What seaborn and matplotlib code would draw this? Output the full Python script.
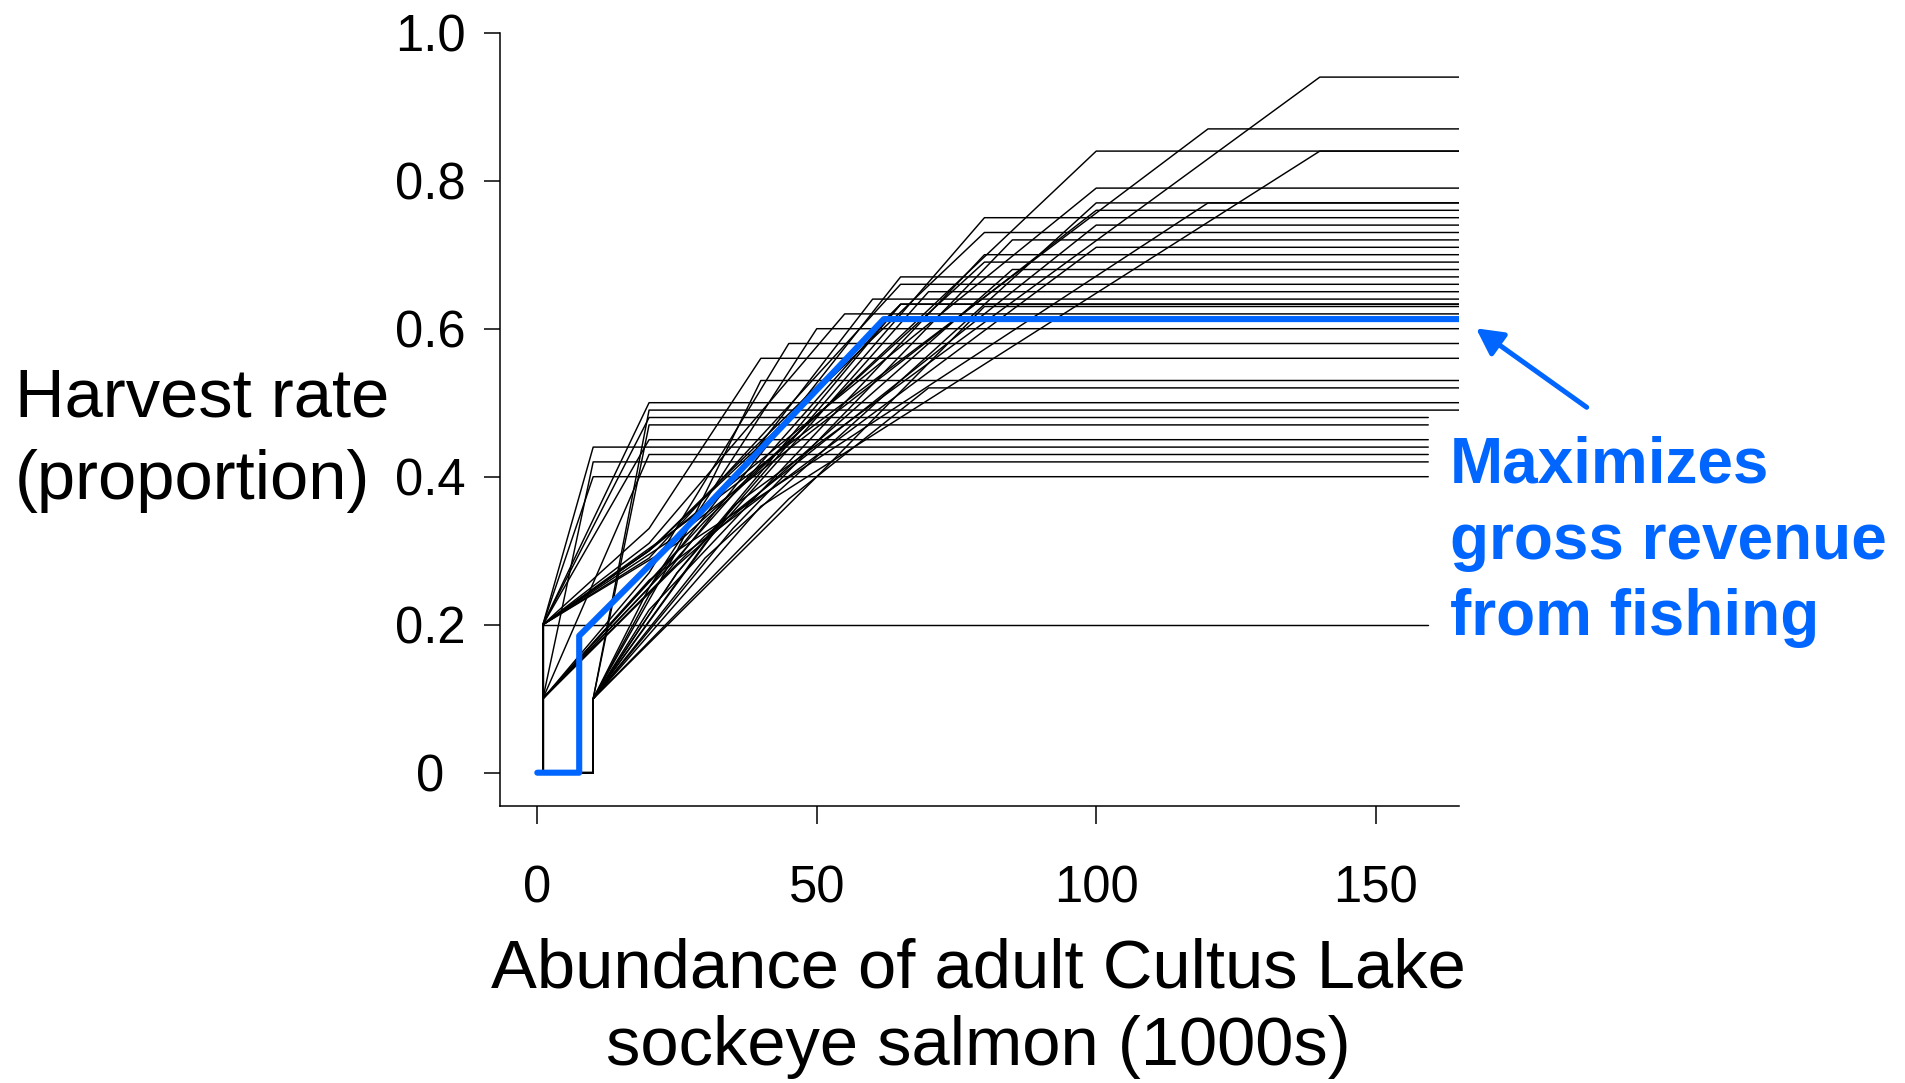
import numpy as np
import pandas as pd
import matplotlib
matplotlib.use("Agg")
import matplotlib.pyplot as plt
import seaborn as sns

# Candidate harvest control rules.  Each rule: zero harvest below x_low,
# a step to h_low at x_low, a rise through (x_mid, h_mid) to the maximum
# rate h_top reached at x_top, then flat out to x_end (abundance in 1000s).
x_low = [10, 1, 1, 10, 1, 10, 1, 1, 10, 1, 1, 10, 1, 10, 1, 1, 10, 1, 10, 1,
         1, 10, 1, 10, 1, 10, 1, 1, 10, 10, 1, 10,
         1, 10, 1, 1, 1, 1, 1, 1]
h_low = [0.10, 0.20, 0.10, 0.10, 0.20, 0.10, 0.10, 0.20, 0.10, 0.10,
         0.20, 0.10, 0.10, 0.10, 0.20, 0.10, 0.10, 0.20, 0.10, 0.10,
         0.20, 0.10, 0.10, 0.10, 0.20, 0.10, 0.10, 0.20, 0.10, 0.10,
         0.20, 0.10,
         0.20, 0.10, 0.20, 0.20, 0.10, 0.10, 0.20, 0.20]
x_mid = [35, 25, 30, 40, 20, 30, 25, 25, 25, 30, 20, 35, 20, 20, 25, 25, 20, 20, 30, 20,
         20, 25, 25, 50, 20, 20, 20, 20, 25, 45, 20, 20,
         20, 20, 20, 10, 20, 10, 10, 1]
h_mid = [0.36, 0.33, 0.34, 0.36, 0.30, 0.29, 0.30, 0.32, 0.27, 0.32,
         0.30, 0.33, 0.26, 0.22, 0.31, 0.28, 0.24, 0.29, 0.31, 0.25,
         0.30, 0.27, 0.29, 0.40, 0.31, 0.25, 0.27, 0.33, 0.30, 0.37,
         0.50, 0.49,
         0.48, 0.47, 0.45, 0.44, 0.43, 0.42, 0.40, 0.20]
x_top = [140, 120, 100, 140, 100, 100, 120, 100, 80, 100, 80, 85, 100, 80, 80, 85, 65, 65, 70, 60,
         65, 65, 65, 80, 55, 50, 45, 40, 40, 70, 20, 20,
         20, 20, 20, 10, 20, 10, 10, 1]
h_top = [0.94, 0.87, 0.84, 0.84, 0.79, 0.77, 0.77, 0.76, 0.75, 0.74,
         0.73, 0.72, 0.71, 0.70, 0.69, 0.68, 0.67, 0.66, 0.65, 0.64,
         0.633, 0.633, 0.633, 0.63, 0.62, 0.60, 0.58, 0.56, 0.53, 0.52,
         0.50, 0.49,
         0.48, 0.47, 0.45, 0.44, 0.43, 0.42, 0.40, 0.20]
x_end = [165] * 32 + [159.4] * 8

# Rule that maximizes gross revenue from fishing
best_x = [0, 7.5, 7.5, 24, 62, 165]
best_h = [0, 0, 0.185, 0.31, 0.613, 0.613]

x_ticks = [0, 50, 100, 150]
x_tick_labels = ["0", "50", "100", "150"]
y_ticks = [0, 0.2, 0.4, 0.6, 0.8, 1.0]
y_tick_labels = ["0", "0.2", "0.4", "0.6", "0.8", "1.0"]

BLUE = "#0066ff"

records = []
for i in range(len(x_low)):
    xs = [0, x_low[i], x_low[i], x_mid[i], x_top[i], x_end[i]]
    ys = [0, 0, h_low[i], h_mid[i], h_top[i], h_top[i]]
    for k, (a, b) in enumerate(zip(xs, ys)):
        records.append({"rule": i, "order": k, "abundance": a, "rate": b})
rules = pd.DataFrame(records)
best = pd.DataFrame({"abundance": best_x, "rate": best_h})

sns.set_style("ticks")
plt.rcParams["font.family"] = ["Liberation Sans", "DejaVu Sans"]
plt.rcParams["text.color"] = "black"
plt.rcParams["axes.labelcolor"] = "black"
plt.rcParams["xtick.color"] = "black"
plt.rcParams["ytick.color"] = "black"
plt.rcParams["xtick.labelcolor"] = "black"
plt.rcParams["ytick.labelcolor"] = "black"

W, H = 1906, 1083
fig = plt.figure(figsize=(W / 100, H / 100), dpi=100)
ax = fig.add_axes([500 / W, (H - 805.7) / H, 959 / W, 773 / H])

sns.lineplot(data=rules, x="abundance", y="rate", units="rule",
             estimator=None, sort=False, color="black", lw=1.05,
             legend=False, ax=ax)
sns.lineplot(data=best, x="abundance", y="rate", estimator=None, sort=False,
             color=BLUE, lw=4.4, legend=False, ax=ax, zorder=5)

ax.set_xlim(-6.67, 164.9)
ax.set_ylim(-0.0446, 1.0)
ax.set_xticks(x_ticks)
ax.set_xticklabels(x_tick_labels)
ax.set_yticks(y_ticks)
ax.set_yticklabels(y_tick_labels)
ax.set_xlabel("")
ax.set_ylabel("")

sns.despine(ax=ax)
for s in ("left", "bottom"):
    ax.spines[s].set_linewidth(1.1)
    ax.spines[s].set_color("black")

ax.tick_params(axis="y", length=11.5, width=1.1, pad=38.5, labelsize=36.5,
               color="black", labelcolor="black", direction="out")
ax.tick_params(axis="x", length=13, width=1.1, pad=29, labelsize=36.5,
               color="black", labelcolor="black", direction="out")
for lab in ax.get_yticklabels():
    lab.set_horizontalalignment("center")

# Axis titles
fig.text(14.6 / W, (H - 416.7) / H, "Harvest rate", fontsize=49.5,
         color="black", ha="left", va="baseline")
fig.text(14.6 / W, (H - 499) / H, "(proportion)", fontsize=49.5,
         color="black", ha="left", va="baseline")
fig.text(978 / W, (H - 987) / H, "Abundance of adult Cultus Lake",
         fontsize=49.5, color="black", ha="center", va="baseline")
fig.text(978 / W, (H - 1065) / H, "sockeye salmon (1000s)",
         fontsize=49.5, color="black", ha="center", va="baseline")

# Callout for the revenue-maximizing rule
for txt, base in [("Maximizes", 482.7), ("gross revenue", 559.3),
                  ("from fishing", 635)]:
    fig.text(1450 / W, (H - base) / H, txt, fontsize=46, fontweight="bold",
             color=BLUE, ha="left", va="baseline")

ax.annotate("", xy=(1476, H - 328.3), xytext=(1586.7, H - 407.3),
            xycoords="figure pixels", textcoords="figure pixels",
            arrowprops=dict(arrowstyle="-|>,head_length=0.8,head_width=0.42",
                            mutation_scale=20, lw=3.6, color=BLUE,
                            shrinkA=0, shrinkB=0),
            annotation_clip=False)

fig.savefig("out.png", dpi=100)
